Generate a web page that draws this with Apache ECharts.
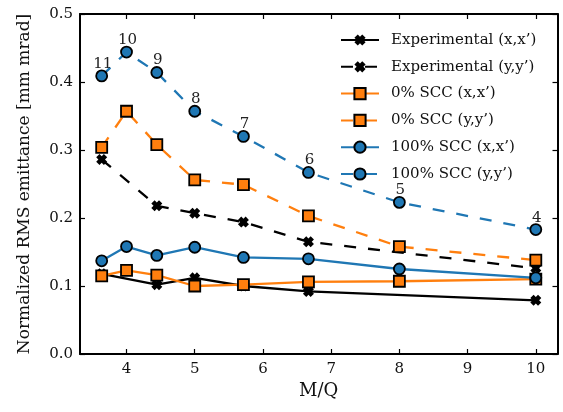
<!DOCTYPE html>
<html>
<head>
<meta charset="utf-8">
<script src="https://cdn.jsdelivr.net/npm/echarts@6/dist/echarts.min.js"></script>
<style>html,body{margin:0;padding:0;background:#fff}#c{width:563px;height:412px}</style>
</head>
<body>
<div id="c"></div>
<script>
// M/Q values (Ar-40, charge states 11..4)
var mq = [3.636, 4.0, 4.444, 5.0, 5.714, 6.667, 8.0, 10.0];
var chargeLabels = ['11', '10', '9', '8', '7', '6', '5', '4'];
var xTicks = [4, 5, 6, 7, 8, 9, 10];
var yTicks = [0.0, 0.1, 0.2, 0.3, 0.4, 0.5];

var expX   = [0.118, null, 0.102, 0.112, 0.100, 0.092, null, 0.079];
var expY   = [0.286, null, 0.218, 0.207, 0.194, 0.165, null, 0.126];
var scc0X  = [0.115, 0.123, 0.116, 0.100, 0.102, 0.106, 0.107, 0.110];
var scc0Y  = [0.304, 0.357, 0.308, 0.256, 0.249, 0.203, 0.158, 0.138];
var scc100X = [0.137, 0.158, 0.145, 0.157, 0.142, 0.140, 0.125, 0.112];
var scc100Y = [0.409, 0.444, 0.414, 0.357, 0.320, 0.267, 0.223, 0.183];

var FONT = 'DejaVu Serif';
var BLUE = '#1f77b4', ORANGE = '#ff7f0e', BLACK = '#000000';
var XPATH = 'path://M0,3 L3,0 L5,2 L7,0 L10,3 L8,5 L10,7 L7,10 L5,8 L3,10 L0,7 L2,5 Z';
var DASH = [12, 12];

function pairs(vals) {
  var out = [];
  for (var i = 0; i < mq.length; i++) if (vals[i] !== null) out.push([mq[i], vals[i]]);
  return out;
}

function mk(name, vals, color, dashed, symbol, size, extra) {
  var s = {
    name: name, type: 'line', data: pairs(vals),
    symbol: symbol, symbolSize: size,
    lineStyle: { color: color, width: 2.3, type: dashed ? DASH : 'solid', cap: 'butt' },
    itemStyle: symbol === XPATH ? { color: BLACK, borderWidth: 0 } : { color: color, borderColor: BLACK, borderWidth: 1.8 },
    emphasis: { disabled: true },
    animation: false
  };
  if (extra) for (var k in extra) s[k] = extra[k];
  return s;
}

var XMIN = 3.318, XMAX = 10.318;
var axisLineStyle = { show: true, onZero: false, lineStyle: { color: BLACK, width: 2 } };
var tickStyle = { show: true, inside: true, length: 5, lineStyle: { color: BLACK, width: 1.2 } };

var option = {
  backgroundColor: '#fff',
  animation: false,
  grid: { left: 80, right: 5.5, top: 14, bottom: 58, outerBoundsMode: 'none' },
  xAxis: [{
    type: 'value', min: XMIN, max: XMAX, position: 'bottom',
    axisLine: axisLineStyle,
    axisTick: Object.assign({ customValues: xTicks }, tickStyle),
    axisLabel: { customValues: xTicks, color: '#111', fontFamily: FONT, fontSize: 15, margin: 8 },
    splitLine: { show: false },
    name: 'M/Q', nameLocation: 'middle', nameGap: 25,
    nameTextStyle: { color: '#111', fontFamily: FONT, fontSize: 18 }
  }, {
    type: 'value', min: XMIN, max: XMAX, position: 'top',
    axisLine: axisLineStyle,
    axisTick: Object.assign({ customValues: xTicks }, tickStyle),
    axisLabel: { show: false }, splitLine: { show: false }
  }],
  yAxis: [{
    type: 'value', min: 0, max: 0.5, interval: 0.1, position: 'left',
    axisLine: axisLineStyle,
    axisTick: Object.assign({ customValues: yTicks }, tickStyle),
    axisLabel: { customValues: yTicks, color: '#111', fontFamily: FONT, fontSize: 15, margin: 7,
      formatter: function (v) { return v.toFixed(1); } },
    splitLine: { show: false },
    name: 'Normalized RMS emittance [mm mrad]', nameLocation: 'middle', nameGap: 47,
    nameTextStyle: { color: '#111', fontFamily: FONT, fontSize: 17 }
  }, {
    type: 'value', min: 0, max: 0.5, interval: 0.1, position: 'right',
    axisLine: axisLineStyle,
    axisTick: Object.assign({ customValues: yTicks }, tickStyle),
    axisLabel: { show: false }, splitLine: { show: false }
  }],
  legend: {
    orient: 'vertical', left: 340, top: 32.5, padding: 0,
    itemWidth: 38, itemHeight: 14, itemGap: 11.8,
    textStyle: { color: '#111', fontFamily: FONT, fontSize: 15, lineHeight: 14, padding: [0, 0, 0, 7] },
    data: ['Experimental (x,x’)', 'Experimental (y,y’)', '0% SCC (x,x’)', '0% SCC (y,y’)', '100% SCC (x,x’)', '100% SCC (y,y’)']
  },
  series: [
    mk('Experimental (x,x’)', expX, BLACK, false, XPATH, 11),
    mk('Experimental (y,y’)', expY, BLACK, true, XPATH, 11),
    mk('0% SCC (x,x’)', scc0X, ORANGE, false, 'rect', 11),
    mk('0% SCC (y,y’)', scc0Y, ORANGE, true, 'rect', 11),
    mk('100% SCC (x,x’)', scc100X, BLUE, false, 'circle', 11),
    mk('100% SCC (y,y’)', scc100Y, BLUE, true, 'circle', 11, {
      label: {
        show: true, position: 'top', distance: -2, offset: [1, 0],
        color: '#222', fontFamily: FONT, fontSize: 15,
        formatter: function (p) { return chargeLabels[p.dataIndex]; }
      }
    })
  ]
};

var chart = echarts.init(document.getElementById('c'), null, { renderer: 'canvas' });
chart.setOption(option);
</script>
</body>
</html>
